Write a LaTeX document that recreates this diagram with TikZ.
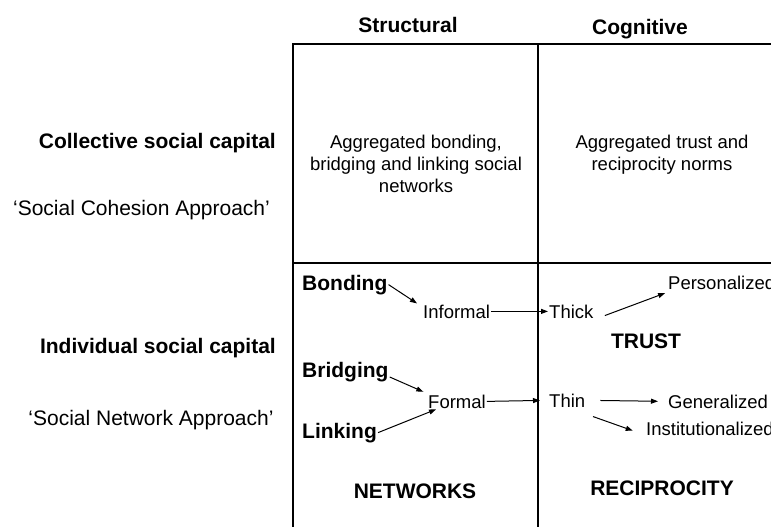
\documentclass[tikz,border=0pt]{standalone}
\usepackage{fontspec}
\setmainfont{Liberation Sans}
\usetikzlibrary{arrows.meta}

\tikzset{
  heading/.style={font=\fontsize{21}{25}\selectfont\bfseries, inner sep=1pt},
  plain/.style={font=\fontsize{18.5}{22}\selectfont, inner sep=1pt},
  approach/.style={font=\fontsize{21}{25}\selectfont, inner sep=1pt},
  flow/.style={-{Triangle[length=7pt,width=5pt]}, line width=1pt},
  frame line/.style={line width=2pt}
}

\begin{document}
\begin{tikzpicture}[x=1pt, y=-1pt]
  \useasboundingbox (0,0) rectangle (771,527);

  % Two-by-two frame, open to the right and bottom
  \draw[frame line] (293,527) -- (293,44) -- (771,44);
  \draw[frame line] (538,44) -- (538,527);
  \draw[frame line] (293,263) -- (771,263);

  % Column headings
  \node[heading, anchor=base] (structural) at (408,33) {Structural};
  \node[heading, anchor=base] (cognitive) at (640,35) {Cognitive};

  % Row headings
  \node[heading, anchor=base east] (collective) at (277,148) {Collective social capital};
  \node[approach, anchor=base] (cohesion) at (141.5,215) {`Social Cohesion Approach'};
  \node[heading, anchor=base east] (individual) at (277,353) {Individual social capital};
  \node[approach, anchor=base] (netapproach) at (151,425) {`Social Network Approach'};

  % Collective row
  \node[plain, align=center, anchor=north, inner sep=0pt] (aggnet) at (416,134.5)
    {Aggregated bonding,\\bridging and linking social\\networks};
  \node[plain, align=center, anchor=north, inner sep=0pt] (aggtrust) at (662,134.5)
    {Aggregated trust and\\reciprocity norms};

  % Individual row, structural side
  \node[heading, anchor=base west] (bonding) at (301,290) {Bonding};
  \node[heading, anchor=base west] (bridging) at (301,377) {Bridging};
  \node[heading, anchor=base west] (linking) at (301,438) {Linking};
  \node[plain, anchor=base west] (informal) at (422,318) {Informal};
  \node[plain, anchor=base west] (formal) at (427,408) {Formal};
  \node[heading, anchor=base] (networks) at (415,498) {NETWORKS};

  % Individual row, cognitive side
  \node[plain, anchor=base west] (thick) at (548,318) {Thick};
  \node[plain, anchor=base west] (thin) at (548,407) {Thin};
  \node[plain, anchor=base west] (personalized) at (667,289) {Personalized};
  \node[plain, anchor=base west] (generalized) at (667,408) {Generalized};
  \node[plain, anchor=base west] (institutional) at (645,435) {Institutionalized};
  \node[heading, anchor=base] (trust) at (646,348) {TRUST};
  \node[heading, anchor=base] (reciprocity) at (662,495) {RECIPROCITY};

  % Arrows
  \draw[flow] (bonding.east) -- ([xshift=-5pt]informal.north west);
  \draw[flow, shorten >=4pt] (bridging.base east) -- (formal.north west);
  \draw[flow] (linking.east) -- ([xshift=9pt]formal.south west);
  \draw[flow] (informal.east) -- (thick.west);
  \draw[flow, shorten >=8pt] (formal.east) -- (thin.west);
  \draw[flow, shorten <=11pt, shorten >=2pt] (thick.south east) -- ([yshift=-2pt]personalized.south west);
  \draw[flow, shorten <=14pt, shorten >=9pt] (thin.east) -- (generalized.west);
  \draw[flow, shorten <=7pt, shorten >=13pt] ([yshift=-6pt]thin.south east) -- (institutional.base west);
\end{tikzpicture}
\end{document}
